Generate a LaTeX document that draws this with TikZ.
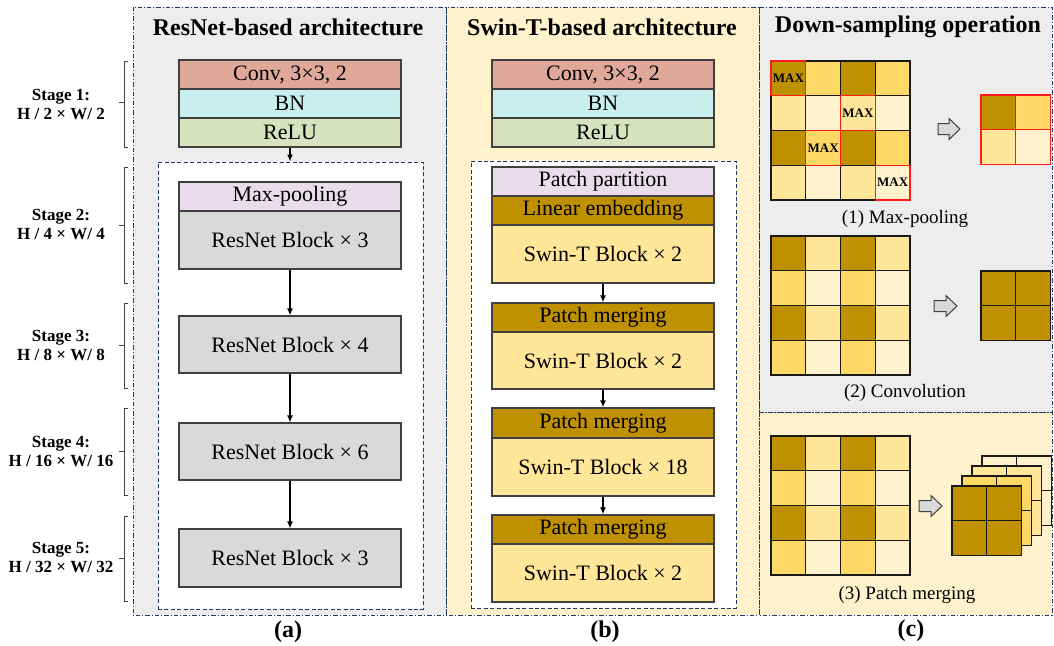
\documentclass[tikz,border=0pt]{standalone}
\usepackage{fontspec}
\setmainfont{Liberation Serif}
\usetikzlibrary{arrows.meta}
\definecolor{dk}{HTML}{BF9000}
\definecolor{md}{HTML}{FFD966}
\definecolor{lt}{HTML}{FFE699}
\definecolor{vl}{HTML}{FFF2CC}
\definecolor{panelgray}{HTML}{EDEDED}
\definecolor{navy}{HTML}{1F3864}
\definecolor{bordc}{HTML}{404040}
\definecolor{convc}{HTML}{E0A898}
\definecolor{bnc}{HTML}{C8EEEE}
\definecolor{reluc}{HTML}{D7E3BE}
\definecolor{poolc}{HTML}{EADCEC}
\definecolor{resc}{HTML}{D9D9D9}
\definecolor{redc}{HTML}{FF1A1A}
\newcommand\blkarrow[3]{%
  \draw[harrow] (#1,{#3-5.5}) -- ({#2-11},{#3-5.5}) -- ({#2-11},{#3-10.5}) -- (#2,#3)
    -- ({#2-11},{#3+10.5}) -- ({#2-11},{#3+5.5}) -- (#1,{#3+5.5}) -- cycle;}
\begin{document}
\begin{tikzpicture}[x=0.5pt,y=-0.5pt,
  blk/.style={draw=bordc, line width=0.6pt, minimum width=111pt, inner sep=0pt,
    font=\fontsize{11}{13}\selectfont, text=black},
  sblk/.style={blk, font=\fontsize{11}{13}\selectfont},
  hs/.style={minimum height=14.5pt},
  hl/.style={minimum height=29pt},
  dbox/.style={draw=navy, dash pattern=on 2pt off 1.2pt, line width=0.5pt, fill=white, inner sep=0pt},
  panelb/.style={draw=navy, line width=0.5pt, dash pattern=on 2.2pt off 1pt on 0.5pt off 1pt},
  arr/.style={-{Latex[length=3.5pt,width=3pt]}, line width=0.7pt, black},
  title/.style={font=\fontsize{12}{14}\selectfont\bfseries},
  stagel/.style={font=\fontsize{8.5}{9.5}\selectfont\bfseries, align=center},
  brk/.style={draw=bordc, line width=0.45pt},
  cellst/.style={draw=black!90, line width=0.7pt},
  redst/.style={draw=redc, line width=0.7pt},
  maxl/.style={font=\fontsize{6.5}{7}\selectfont\bfseries, inner sep=0pt},
  capl/.style={font=\fontsize{9.5}{11}\selectfont},
  harrow/.style={draw=bordc, fill=resc, line width=0.5pt},
  sublbl/.style={font=\fontsize{12}{14}\selectfont\bfseries}
]
\useasboundingbox (0,0) rectangle (1054,645);
% panels
\fill[panelgray] (133,7) rectangle (446,615);
\fill[vl] (446,7) rectangle (759,615);
\fill[panelgray] (759,7) rectangle (1052,412);
\fill[vl] (759,412) rectangle (1052,615);
\draw[panelb] (133,7) rectangle (446,615);
\draw[panelb] (446,7) rectangle (759,615);
\draw[panelb] (759,7) rectangle (1052,412);
\draw[panelb] (759,412) rectangle (1052,615);
% titles
\node[title] (ta) at (288,27) {ResNet-based architecture};
\node[title] (tb) at (602,27) {Swin-T-based architecture};
\node[title] (tc) at (908,27) {Down-sampling operation};
% stage labels and brackets
\node[stagel] (s1) at (61,104) {Stage 1:\\H / 2 × W/ 2};
\node[stagel] (s2) at (61,224) {Stage 2:\\H / 4 × W/ 4};
\node[stagel] (s3) at (61,345) {Stage 3:\\H / 8 × W/ 8};
\node[stagel] (s4) at (61,451) {Stage 4:\\H / 16 × W/ 16};
\node[stagel] (s5) at (61,557) {Stage 5:\\H / 32 × W/ 32};
\foreach \ta/\tb/\tm in {61/147/102, 167/283/225, 303/388/345, 408/495/451, 516/601/558} {
  \draw[brk] (128,\ta) -- (124,\ta) -- (124,\tb) -- (128,\tb);
  \draw[brk] (124,\tm) -- (119,\tm);
}
% ResNet column
\node[sblk, hs, fill=convc] (conva) at (290,74.5) {Conv, 3×3, 2};
\node[sblk, hs, fill=bnc] (bna) at (290,103.5) {BN};
\node[sblk, hs, fill=reluc] (relua) at (290,132.5) {ReLU};
\node[dbox, minimum width=132.5pt, minimum height=223.5pt] (dboxa) at (290.5,385.5) {};
\node[blk, hs, fill=poolc] (poola) at (290,196.5) {Max-pooling};
\node[blk, hl, fill=resc] (rb1) at (290,240) {ResNet Block × 3};
\node[blk, minimum height=28.5pt, fill=resc] (rb2) at (290,344.5) {ResNet Block × 4};
\node[blk, minimum height=28.5pt, fill=resc] (rb3) at (290,451.5) {ResNet Block × 6};
\node[blk, hl, fill=resc] (rb4) at (290,558) {ResNet Block × 3};
\draw[arr] (relua.south) -- (relua.south |- dboxa.north);
\draw[arr] (rb1.south) -- (rb2.north);
\draw[arr] (rb2.south) -- (rb3.north);
\draw[arr] (rb3.south) -- (rb4.north);
% Swin column
\node[sblk, hs, fill=convc] (convb) at (603,74.5) {Conv, 3×3, 2};
\node[sblk, hs, fill=bnc] (bnb) at (603,103.5) {BN};
\node[sblk, hs, fill=reluc] (relub) at (603,132.5) {ReLU};
\node[dbox, minimum width=132.5pt, minimum height=223.5pt] (dboxb) at (603.5,384.5) {};
\node[blk, hs, fill=poolc] (pp) at (603,181.5) {Patch partition};
\node[blk, hs, fill=dk] (le) at (603,210.5) {Linear embedding};
\node[blk, hl, fill=lt] (sw1) at (603,254) {Swin-T Block × 2};
\node[blk, hs, fill=dk] (pm1) at (603,317.5) {Patch merging};
\node[blk, minimum height=28.5pt, fill=lt] (sw2) at (603,360.5) {Swin-T Block × 2};
\node[blk, minimum height=15pt, fill=dk] (pm2) at (603,423) {Patch merging};
\node[blk, hl, fill=lt] (sw3) at (603,467) {Swin-T Block × 18};
\node[blk, hs, fill=dk] (pm3) at (603,529.5) {Patch merging};
\node[blk, hl, fill=lt] (sw4) at (603,573) {Swin-T Block × 2};
\draw[arr] (sw1.south) -- (pm1.north);
\draw[arr] (sw2.south) -- (pm2.north);
\draw[arr] (sw3.south) -- (pm3.north);
% (1) Max-pooling
\foreach \rowcols [count=\r from 0] in {{dk,md,dk,md},{lt,vl,lt,vl},{dk,md,dk,md},{lt,vl,lt,vl}} {
  \foreach \cc [count=\c from 0] in \rowcols {
    \draw[cellst, fill=\cc] ({771+\c*34.75},{61+\r*34.75}) rectangle ++(34.75,34.75);
  }
}
\foreach \r/\c in {0/0,1/2,2/1,3/3} {
  \draw[redst] ({771+\c*34.75},{61+\r*34.75}) rectangle ++(34.75,34.75);
}
\node[maxl] (mx1) at ({771+0.5*34.75},{61+0.5*34.75}) {MAX};
\node[maxl] (mx2) at ({771+2.5*34.75},{61+1.5*34.75}) {MAX};
\node[maxl] (mx3) at ({771+1.5*34.75},{61+2.5*34.75}) {MAX};
\node[maxl] (mx4) at ({771+3.5*34.75},{61+3.5*34.75}) {MAX};
\foreach \cc/\r/\c in {dk/0/0, md/0/1, lt/1/0, vl/1/1} {
  \draw[redst, fill=\cc] ({981+\c*34.75},{95+\r*34.75}) rectangle ++(34.75,34.75);
}
\blkarrow{938}{960}{129}
\node[capl] (cap1) at (905,219) {(1) Max-pooling};
% (2) Convolution
\foreach \rowcols [count=\r from 0] in {{dk,lt,dk,lt},{md,vl,md,vl},{dk,lt,dk,lt},{md,vl,md,vl}} {
  \foreach \cc [count=\c from 0] in \rowcols {
    \draw[cellst, fill=\cc] ({771+\c*34.75},{236+\r*34.75}) rectangle ++(34.75,34.75);
  }
}
\foreach \r in {0,1} \foreach \c in {0,1} {
  \draw[cellst, fill=dk] ({981+\c*34.75},{271+\r*34.75}) rectangle ++(34.75,34.75);
}
\blkarrow{934}{957}{306}
\node[capl] (cap2) at (905,393) {(2) Convolution};
% (3) Patch merging
\foreach \rowcols [count=\r from 0] in {{dk,lt,dk,lt},{md,vl,md,vl},{dk,lt,dk,lt},{md,vl,md,vl}} {
  \foreach \cc [count=\c from 0] in \rowcols {
    \draw[cellst, fill=\cc] ({771+\c*34.75},{436+\r*34.75}) rectangle ++(34.75,34.75);
  }
}
\foreach \k/\cc in {3/vl,2/lt,1/md,0/dk} {
  \foreach \r in {0,1} \foreach \c in {0,1} {
    \draw[cellst, fill=\cc] ({952+10*\k+\c*34.75},{486-10*\k+\r*34.75}) rectangle ++(34.75,34.75);
  }
}
\blkarrow{919}{942}{506}
\node[capl] (cap3) at (907,595) {(3) Patch merging};
% sub labels
\node[sublbl] (la) at (288,632) {(a)};
\node[sublbl] (lb) at (605,632) {(b)};
\node[sublbl] (lc) at (911,631) {(c)};
\end{tikzpicture}
\end{document}
